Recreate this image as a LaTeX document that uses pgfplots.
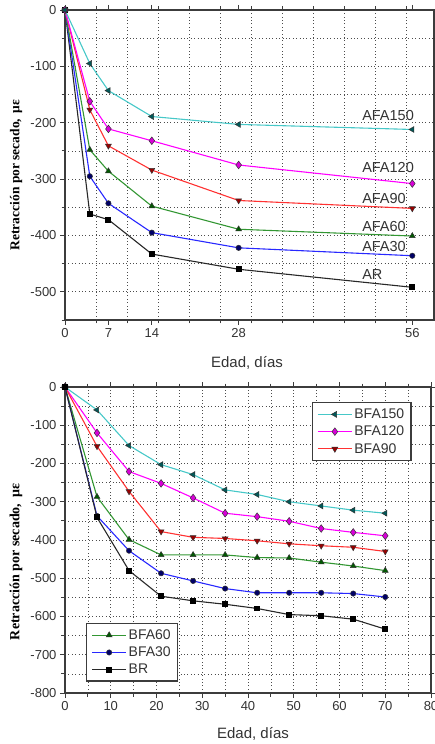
\documentclass[border=0pt]{standalone}
\usepackage{fontspec}
\setmainfont{Liberation Sans}
\newfontfamily\tnr{Liberation Serif}
\usepackage{pgfplots}
\pgfplotsset{compat=1.18}
\definecolor{ccyan}{RGB}{70,200,200}
\definecolor{cmag}{RGB}{255,0,255}
\definecolor{cred}{RGB}{255,50,50}
\definecolor{cgreen}{RGB}{50,150,50}
\definecolor{cblue}{RGB}{40,40,255}
\definecolor{cblack}{RGB}{40,40,40}
\definecolor{axgray}{RGB}{60,60,60}
\pgfplotsset{
  mystyle/.style={
    scale only axis,
    axis line style={axgray, line width=1.5pt},
    tick style={axgray, line width=0.9pt},
    tick align=outside,
    major tick length=5pt, minor tick length=3.5pt,
    xminorgrids=true, ymajorgrids=true, yminorgrids=true,
    grid style={black!70, line width=0.7pt, dash pattern=on 0.8pt off 2.6pt},
    tick label style={font=\fontsize{13}{13}\selectfont, text=black!80},
    /pgf/number format/assume math mode=true,
    /pgf/number format/1000 sep={},
    clip=false,
  },
  s150/.style={ccyan, line width=1.1pt, mark=triangle*, mark size=3.4pt, mark options={rotate=90, fill=teal!70!black, draw=black!80, line width=0.5pt}},
  s120/.style={cmag, line width=1.1pt, mark=diamond*, mark size=3.8pt, mark options={fill=cmag!85!black, draw=black!80, line width=0.5pt}},
  s90/.style={cred, line width=1.1pt, mark=triangle*, mark size=3.4pt, mark options={rotate=180, fill=red!60!black, draw=black!80, line width=0.5pt}},
  s60/.style={cgreen, line width=1.1pt, mark=triangle*, mark size=3.4pt, mark options={fill=green!35!black, draw=black!80, line width=0.5pt}},
  s30/.style={cblue, line width=1.1pt, mark=*, mark size=2.7pt, mark options={fill=blue!40!black, draw=black!80, line width=0.5pt}},
  sR/.style={cblack, line width=1.1pt, mark=square*, mark size=2.4pt, mark options={fill=black, draw=black}},
  mylegend/.style={
    legend style={draw=axgray, line width=1.5pt, fill=white, font=\fontsize{14}{14}\selectfont, text=black!80,
      inner xsep=5pt, inner ysep=4pt, row sep=2pt},
    legend cell align=left,
    legend image code/.code={\draw[mark repeat=2, mark phase=2, ##1] plot coordinates {(0pt,0pt) (17pt,0pt) (34pt,0pt)};},
  },
}
\begin{document}
\begin{tikzpicture}
\useasboundingbox (0pt,0pt) rectangle (434pt,744pt);
% ---------- top chart ----------
\begin{axis}[mystyle, at={(65pt,424pt)}, anchor=south west, width=369pt, height=310pt,
  xmin=0, xmax=59.5, ymin=-550, ymax=0,
  xtick={0,7,14,28,56}, minor xtick={5,10,...,55},
  ytick={-500,-400,...,0}, minor ytick={-550,-450,...,-50}]
\addplot[sR] coordinates {(0,0) (4,-362) (7,-372) (14,-433) (28,-460) (56,-492)};
\addplot[s30] coordinates {(0,0) (4,-295) (7,-343) (14,-395) (28,-422) (56,-436)};
\addplot[s60] coordinates {(0,0) (4,-248) (7,-286) (14,-348) (28,-389) (56,-401)};
\addplot[s90] coordinates {(0,0) (4,-177) (7,-241) (14,-284) (28,-338) (56,-352)};
\addplot[s120] coordinates {(0,0) (4,-162) (7,-211) (14,-232) (28,-275) (56,-308)};
\addplot[s150] coordinates {(0,0) (4,-95) (7,-143) (14,-189) (28,-203) (56,-212)};
\begin{scope}[every node/.style={anchor=west, font=\fontsize{14.5}{14.5}\selectfont, text=black!80, inner sep=0pt}]
\node at (axis cs:47.9,-188) {AFA150};
\node at (axis cs:47.9,-280) {AFA120};
\node at (axis cs:47.9,-334) {AFA90};
\node at (axis cs:47.9,-385) {AFA60};
\node at (axis cs:47.9,-420) {AFA30};
\node at (axis cs:47.9,-470) {AR};
\end{scope}
\end{axis}
\node[rotate=90, font=\tnr\bfseries\fontsize{13.5}{13.5}\selectfont] at (16pt,569pt) {Retracción por secado,\, με};
\node[font=\fontsize{15}{15}\selectfont, text=black!80] at (247pt,381pt) {Edad, días};
% ---------- bottom chart ----------
\begin{axis}[mystyle, mylegend, at={(65pt,51pt)}, anchor=south west, width=366pt, height=306pt,
  xmin=0, xmax=80, ymin=-800, ymax=0,
  xtick={0,10,...,80}, minor xtick={5,15,...,75}, xmajorgrids=true,
  ytick={-800,-700,...,0}, minor ytick={-750,-650,...,-50},
  legend style={at={(0.948,0.951)}, anchor=north east}]
\addplot[s150] coordinates {(0,0) (7,-60) (14,-153) (21,-203) (28,-229) (35,-269) (42,-281) (49,-300) (56,-311) (63,-322) (70,-330)};
\addlegendentry{BFA150}
\addplot[s120] coordinates {(0,0) (7,-120) (14,-221) (21,-252) (28,-290) (35,-330) (42,-339) (49,-351) (56,-370) (63,-380) (70,-389)};
\addlegendentry{BFA120}
\addplot[s90] coordinates {(0,0) (7,-155) (14,-273) (21,-378) (28,-393) (35,-396) (42,-402) (49,-410) (56,-415) (63,-419) (70,-430)};
\addlegendentry{BFA90}
\addplot[s60, forget plot] coordinates {(0,0) (7,-287) (14,-399) (21,-439) (28,-439) (35,-439) (42,-446) (49,-447) (56,-458) (63,-468) (70,-480)};
\addplot[s30, forget plot] coordinates {(0,0) (7,-337) (14,-428) (21,-487) (28,-507) (35,-527) (42,-538) (49,-538) (56,-538) (63,-540) (70,-549)};
\addplot[sR, forget plot] coordinates {(0,0) (7,-341) (14,-480) (21,-547) (28,-559) (35,-568) (42,-579) (49,-595) (56,-598) (63,-607) (70,-633)};
\end{axis}
\begin{axis}[mystyle, mylegend, hide axis, at={(65pt,51pt)}, anchor=south west, width=366pt, height=306pt,
  xmin=0, xmax=80, ymin=-800, ymax=0,
  legend style={at={(0.057,0.036)}, anchor=south west}]
\addlegendimage{s60}
\addlegendentry{BFA60}
\addlegendimage{s30}
\addlegendentry{BFA30}
\addlegendimage{sR}
\addlegendentry{BR}
\end{axis}
\node[rotate=90, font=\tnr\bfseries\fontsize{14}{14}\selectfont] at (16pt,182pt) {Retracción por secado,\, με};
\node[font=\fontsize{15}{15}\selectfont, text=black!80] at (253pt,10pt) {Edad, días};
\end{tikzpicture}
\end{document}
